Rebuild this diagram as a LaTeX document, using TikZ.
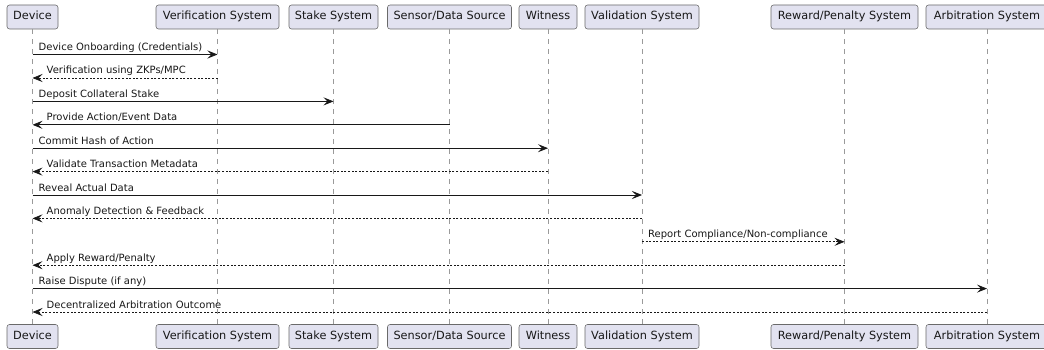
\documentclass[tikz,border=0pt]{standalone}
\usepackage{fontspec}
\setmainfont{DejaVu Sans}
\usetikzlibrary{arrows.meta}
\definecolor{boxfill}{HTML}{E2E2F0}
\definecolor{ink}{HTML}{181818}
\definecolor{boxline}{HTML}{6A6A6A}
\definecolor{lifeline}{HTML}{9A9A9A}
\tikzset{
  part/.style={draw=boxline, line width=0.55pt, fill=boxfill, rounded corners=2.5pt,
    minimum height=24pt, inner sep=0pt, text height=8.4pt, text depth=2.4pt,
    font=\fontsize{11.3pt}{13pt}\selectfont, text=ink},
  life/.style={draw=lifeline, line width=0.6pt, dash pattern=on 5pt off 5pt},
  msg/.style={draw=ink, line width=0.85pt, -{Stealth[length=10pt,width=8pt,inset=4pt]}},
  ret/.style={msg, line width=0.7pt, dash pattern=on 2pt off 1.6pt},
  lbl/.style={font=\fontsize{10pt}{12pt}\selectfont, inner sep=0pt, anchor=base west, text=ink}
}
\begin{document}
\begin{tikzpicture}[x=1pt,y=-1pt]
\fill[white] (0,0) rectangle (1044,350);
\useasboundingbox (0,0) rectangle (1044,350);
% participants (top)
\node[part, minimum width=51pt]  (dev) at (32.5,17) {Device};
\node[part, minimum width=123pt] (ver) at (217.5,17) {Verification System};
\node[part, minimum width=89pt]  (stk) at (333.5,17) {Stake System};
\node[part, minimum width=124pt] (sen) at (449.5,17) {Sensor/Data Source};
\node[part, minimum width=58pt]  (wit) at (548,17) {Witness};
\node[part, minimum width=114pt] (val) at (642,17) {Validation System};
\node[part, minimum width=147pt] (rew) at (844.5,17) {Reward/Penalty System};
\node[part, minimum width=122pt] (arb) at (987,17) {Arbitration System};
% participants (bottom)
\node[part, minimum width=51pt]  (devB) at (32.5,336.5) {Device};
\node[part, minimum width=123pt] (verB) at (217.5,336.5) {Verification System};
\node[part, minimum width=89pt]  (stkB) at (333.5,336.5) {Stake System};
\node[part, minimum width=124pt] (senB) at (449.5,336.5) {Sensor/Data Source};
\node[part, minimum width=58pt]  (witB) at (548,336.5) {Witness};
\node[part, minimum width=114pt] (valB) at (642,336.5) {Validation System};
\node[part, minimum width=147pt] (rewB) at (844.5,336.5) {Reward/Penalty System};
\node[part, minimum width=122pt] (arbB) at (987,336.5) {Arbitration System};
% lifelines
\foreach \p in {dev,ver,stk,sen,wit,val,rew,arb}{
  \draw[life] (\p.south) -- (\p B.north);
}
% messages
\draw[msg] (dev.south |- 0,54.5) -- (ver.south |- 0,54.5);
\node[lbl] (m1) at ([xshift=6pt,yshift=4pt]dev.south |- 0,54.5) {Device Onboarding (Credentials)};
\draw[ret] (ver.south |- 0,78) -- (dev.south |- 0,78);
\node[lbl] (m2) at ([xshift=14pt,yshift=4pt]dev.south |- 0,78) {Verification using ZKPs/MPC};
\draw[msg] (dev.south |- 0,101.4) -- (stk.south |- 0,101.4);
\node[lbl] (m3) at ([xshift=6pt,yshift=4pt]dev.south |- 0,101.4) {Deposit Collateral Stake};
\draw[msg] (sen.south |- 0,124.8) -- (dev.south |- 0,124.8);
\node[lbl] (m4) at ([xshift=14pt,yshift=4pt]dev.south |- 0,124.8) {Provide Action/Event Data};
\draw[msg] (dev.south |- 0,148.2) -- (wit.south |- 0,148.2);
\node[lbl] (m5) at ([xshift=6pt,yshift=4pt]dev.south |- 0,148.2) {Commit Hash of Action};
\draw[ret] (wit.south |- 0,171.6) -- (dev.south |- 0,171.6);
\node[lbl] (m6) at ([xshift=14pt,yshift=4pt]dev.south |- 0,171.6) {Validate Transaction Metadata};
\draw[msg] (dev.south |- 0,195) -- (val.south |- 0,195);
\node[lbl] (m7) at ([xshift=6pt,yshift=4pt]dev.south |- 0,195) {Reveal Actual Data};
\draw[ret] (val.south |- 0,218.4) -- (dev.south |- 0,218.4);
\node[lbl] (m8) at ([xshift=14pt,yshift=4pt]dev.south |- 0,218.4) {Anomaly Detection \& Feedback};
\draw[ret] (val.south |- 0,241.8) -- (rew.south |- 0,241.8);
\node[lbl] (m9) at ([xshift=6pt,yshift=4pt]val.south |- 0,241.8) {Report Compliance/Non-compliance};
\draw[ret] (rew.south |- 0,265.2) -- (dev.south |- 0,265.2);
\node[lbl] (m10) at ([xshift=14pt,yshift=4pt]dev.south |- 0,265.2) {Apply Reward/Penalty};
\draw[msg] (dev.south |- 0,288.6) -- (arb.south |- 0,288.6);
\node[lbl] (m11) at ([xshift=6pt,yshift=4pt]dev.south |- 0,288.6) {Raise Dispute (if any)};
\draw[ret] (arb.south |- 0,312) -- (dev.south |- 0,312);
\node[lbl] (m12) at ([xshift=14pt,yshift=4pt]dev.south |- 0,312) {Decentralized Arbitration Outcome};
\end{tikzpicture}
\end{document}
